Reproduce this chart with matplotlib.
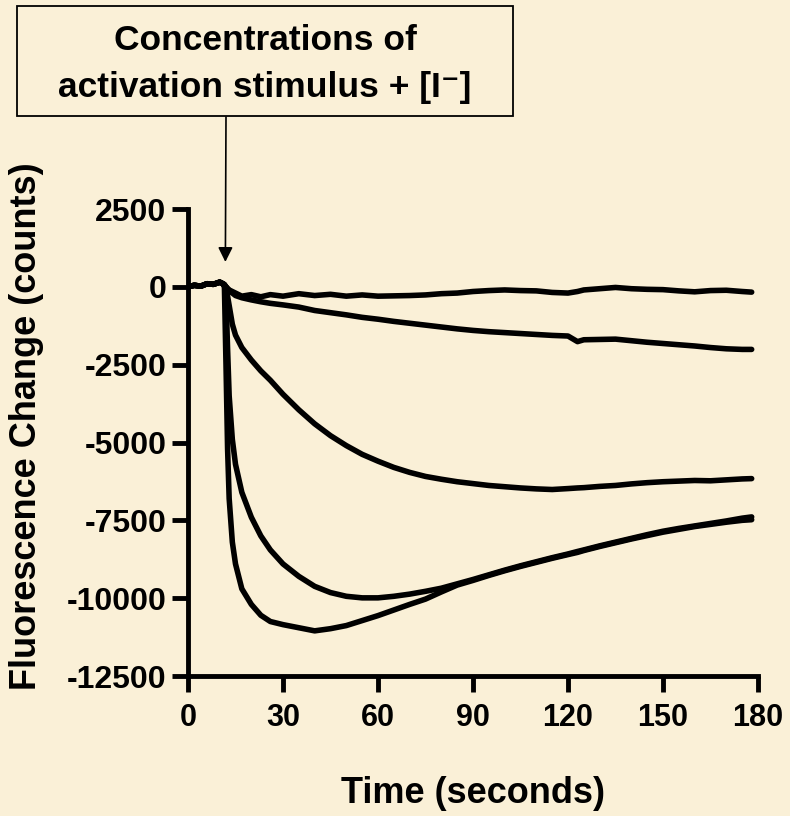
import matplotlib
matplotlib.use("Agg")
import matplotlib.pyplot as plt
from matplotlib.patches import Rectangle

plt.rcParams['font.family'] = ['Liberation Sans', 'DejaVu Sans']
plt.rcParams['font.weight'] = 'bold'

# time (seconds) and fluorescence change (counts) for the five traces
time = [0, 2, 4, 6, 8, 10, 11, 11.5, 12, 12.5, 13, 14, 15, 17, 20, 23, 26, 30, 35, 40,
        45, 50, 55, 60, 65, 70, 75, 80, 85, 90, 95, 100, 105, 110, 115, 120, 123, 125,
        130, 135, 140, 145, 150, 155, 160, 165, 170, 175, 178]

trace_a = [0, 50, 20, 100, 80, 150, 100, 50, 0, -50, -100, -150, -200, -300, -250, -320,
           -250, -300, -220, -280, -240, -300, -260, -300, -290, -280, -260, -220, -200,
           -150, -120, -100, -120, -130, -180, -200, -150, -100, -60, -20, -60, -80, -90,
           -130, -160, -120, -110, -150, -170]

trace_b = [0, 50, 20, 100, 80, 150, 100, 50, 0, -60, -120, -200, -280, -350, -420, -480,
           -530, -580, -650, -760, -830, -900, -980, -1040, -1110, -1170, -1230, -1290,
           -1350, -1400, -1440, -1470, -1500, -1530, -1560, -1580, -1760, -1700, -1690,
           -1680, -1730, -1780, -1820, -1860, -1900, -1950, -1990, -2010, -2010]

trace_c = [0, 50, 20, 100, 80, 150, 100, 80, 0, -300, -600, -1200, -1550, -1950, -2350,
           -2700, -3000, -3450, -3950, -4400, -4780, -5100, -5380, -5600, -5800, -5960,
           -6090, -6180, -6260, -6320, -6380, -6420, -6460, -6490, -6510, -6480, -6460,
           -6450, -6410, -6380, -6330, -6290, -6260, -6240, -6220, -6230, -6200, -6170,
           -6160]

trace_d = [0, 50, 20, 100, 80, 150, 100, 50, -300, -2000, -3500, -4900, -5700, -6600,
           -7400, -8000, -8450, -8900, -9300, -9620, -9820, -9940, -9990, -9990, -9940,
           -9870, -9780, -9680, -9540, -9400, -9250, -9100, -8960, -8830, -8700, -8580,
           -8500, -8450, -8320, -8200, -8080, -7960, -7850, -7760, -7680, -7600, -7520,
           -7430, -7390]

trace_e = [0, 50, 20, 100, 80, 150, 100, 0, -2500, -5200, -6800, -8200, -8900, -9700,
           -10200, -10550, -10750, -10850, -10950, -11050, -10980, -10880, -10720, -10560,
           -10380, -10200, -10030, -9800, -9580, -9430, -9270, -9120, -8980, -8850, -8720,
           -8600, -8530, -8470, -8340, -8220, -8100, -7990, -7880, -7790, -7700, -7630,
           -7560, -7500, -7480]

xticks = [0, 30, 60, 90, 120, 150, 180]
yticks = [2500, 0, -2500, -5000, -7500, -10000, -12500]
ytick_labels = ['2500', '0', '-2500', '-5000', '-7500', '-10000', '-12500']

stim_time = 11.8
bg = '#FAF0D7'

W, H = 790, 816
fig = plt.figure(figsize=(W / 100, H / 100), dpi=100, facecolor=bg)
ax = fig.add_axes([188 / W, 1 - 676 / H, 570 / W, (676 - 209) / H])
ax.set_facecolor(bg)

for tr in [trace_a, trace_b, trace_c, trace_d, trace_e]:
    ax.plot(time, tr, color='black', lw=4, solid_capstyle='round', solid_joinstyle='round')

ax.set_xlim(0, 180)
ax.set_ylim(-12500, 2500)
ax.set_xticks(xticks)
ax.set_xticklabels([str(v) for v in xticks])
ax.set_yticks(yticks)
ax.set_yticklabels(ytick_labels)
for s in ['top', 'right']:
    ax.spines[s].set_visible(False)
for s in ['left', 'bottom']:
    ax.spines[s].set_linewidth(3.5)
    ax.spines[s].set_capstyle('projecting')
ax.tick_params(axis='both', direction='out', length=11.5, width=3.5)
ax.tick_params(axis='y', pad=4, labelsize=23)
ax.tick_params(axis='x', pad=8, labelsize=22)

fig.text(27 / W, 1 - 426 / H, 'Fluorescence Change (counts)', rotation=90,
         ha='center', va='center', fontsize=26, fontweight='bold')
fig.text(473 / W, 1 - 803 / H, 'Time (seconds)', ha='center', va='baseline',
         fontsize=26, fontweight='bold')

# annotation box with arrow
fig.add_artist(Rectangle((17 / W, 1 - 116 / H), (513 - 17) / W, (116 - 6) / H,
                         transform=fig.transFigure, fill=False, ec='black', lw=1.3))
fig.text(265 / W, 1 - 50 / H, 'Concentrations of', ha='center', va='baseline',
         fontsize=25.5, fontweight='bold')
fig.text(265 / W, 1 - 97 / H, 'activation stimulus + [I\u207b]', ha='center',
         va='baseline', fontsize=25.5, fontweight='bold')
ax.annotate('', xy=(stim_time, 800), xycoords='data',
            xytext=(226 / W, 1 - 117 / H), textcoords='figure fraction',
            arrowprops=dict(arrowstyle='-|>', color='black', lw=1.2,
                            mutation_scale=22, shrinkA=0, shrinkB=0),
            annotation_clip=False)

fig.savefig('out.png', dpi=100, facecolor=bg)
